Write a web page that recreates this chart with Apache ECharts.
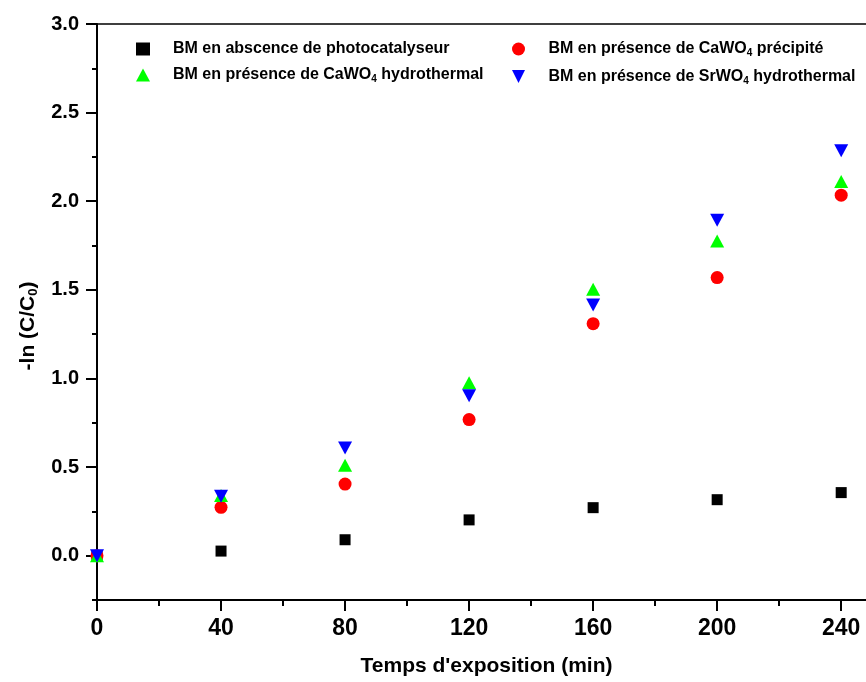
<!DOCTYPE html>
<html>
<head>
<meta charset="utf-8">
<script src="https://cdn.jsdelivr.net/npm/echarts@6/dist/echarts.min.js"></script>
<style>
  html, body { margin: 0; padding: 0; background: #fff; }
  #chart { width: 866px; height: 682px; }
</style>
</head>
<body>
<div id="chart"></div>
<script>
// Exposure time (min)
const times = [0, 40, 80, 120, 160, 200, 240];

// -ln(C/C0) for each condition
const sansCatalyseur = [0, 0.026, 0.09, 0.202, 0.271, 0.316, 0.356];
const caWO4Precipite = [0, 0.273, 0.404, 0.768, 1.309, 1.569, 2.034];
const caWO4Hydro = [0, 0.34, 0.511, 0.976, 1.503, 1.776, 2.111];
const srWO4Hydro = [0, 0.335, 0.607, 0.902, 1.414, 1.892, 2.285];

// Axis ticks and labels
const xMajorTicks = [0, 40, 80, 120, 160, 200, 240];
const xMinorTicks = [20, 60, 100, 140, 180, 220];
const yMajorTicks = [0, 0.5, 1.0, 1.5, 2.0, 2.5, 3.0];
const yMinorTicks = [-0.25, 0.25, 0.75, 1.25, 1.75, 2.25, 2.75];

const seriesNames = [
  'BM en abscence de photocatalyseur',
  'BM en présence de CaWO{sub|4} précipité',
  'BM en présence de CaWO{sub|4} hydrothermal',
  'BM en présence de SrWO{sub|4} hydrothermal'
];

const FONT = '"Liberation Sans", Arial, sans-serif';

// Downward-pointing triangle marker
const DOWN_TRIANGLE = 'path://M0,0 L2,0 L1,2 Z';

const pairs = ys => times.map((t, i) => [t, ys[i]]);

const chart = echarts.init(document.getElementById('chart'), null, { renderer: 'canvas' });

const legendText = {
  fontFamily: FONT, fontWeight: 'bold', fontSize: 16, color: '#000',
  padding: [0, 0, 0, 18],
  rich: {
    sub: { fontFamily: FONT, fontWeight: 'bold', fontSize: 10, color: '#000', verticalAlign: 'bottom', padding: [9, 0, 0, 0] }
  }
};

const axisLineStyle = { color: '#000', width: 2 };

chart.setOption({
  animation: false,
  backgroundColor: '#fff',
  grid: { left: 97, right: 0, top: 24, bottom: 80, containLabel: false },
  legend: [
    {
      data: [seriesNames[0], seriesNames[2]],
      orient: 'vertical', left: 131, top: 36, itemGap: 10,
      itemWidth: 14, itemHeight: 13, textStyle: legendText, selectedMode: false
    },
    {
      data: [seriesNames[1], seriesNames[3]],
      orient: 'vertical', left: 507, top: 36, itemGap: 10,
      itemWidth: 14, itemHeight: 13, textStyle: legendText, selectedMode: false
    }
  ],
  xAxis: [
    {
      type: 'value', min: 0, max: 248, position: 'bottom',
      name: "Temps d'exposition (min)", nameLocation: 'middle', nameGap: 56,
      nameTextStyle: { fontFamily: FONT, fontWeight: 'bold', fontSize: 21, color: '#000', padding: [0, 0, 0, 10] },
      axisLine: { show: true, onZero: false, lineStyle: axisLineStyle },
      axisTick: { show: true, inside: false, length: 11, lineStyle: axisLineStyle, customValues: xMajorTicks },
      axisLabel: { show: true, margin: 17, fontFamily: FONT, fontWeight: 'bold', fontSize: 23, color: '#000', customValues: xMajorTicks },
      splitLine: { show: false }
    },
    {
      type: 'value', min: 0, max: 248, position: 'bottom',
      axisLine: { show: false, onZero: false },
      axisTick: { show: true, length: 6, lineStyle: axisLineStyle, customValues: xMinorTicks },
      axisLabel: { show: false },
      splitLine: { show: false }
    },
    {
      type: 'value', min: 0, max: 248, position: 'top',
      axisLine: { show: true, onZero: false, lineStyle: { color: '#000', width: 1.5 } },
      axisTick: { show: false }, axisLabel: { show: false }, splitLine: { show: false }
    }
  ],
  yAxis: [
    {
      type: 'value', min: -0.25, max: 3.0, position: 'left',
      name: '-ln (C/C{sub|0})', nameLocation: 'middle', nameRotate: 90, nameGap: 56,
      nameTextStyle: {
        fontFamily: FONT, fontWeight: 'bold', fontSize: 21, color: '#000',
        padding: [0, 28, 0, 0],
        rich: { sub: { fontFamily: FONT, fontWeight: 'bold', fontSize: 13, color: '#000', verticalAlign: 'bottom', padding: [12, 0, 0, 0] } }
      },
      axisLine: { show: true, onZero: false, lineStyle: axisLineStyle },
      axisTick: { show: true, length: 11, lineStyle: axisLineStyle, customValues: yMajorTicks },
      axisLabel: {
        show: true, margin: 18, fontFamily: FONT, fontWeight: 'bold', fontSize: 20, color: '#000',
        customValues: yMajorTicks, formatter: v => v.toFixed(1)
      },
      splitLine: { show: false }
    },
    {
      type: 'value', min: -0.25, max: 3.0, position: 'left',
      axisLine: { show: false, onZero: false },
      axisTick: { show: true, length: 5, lineStyle: axisLineStyle, customValues: yMinorTicks },
      axisLabel: { show: false },
      splitLine: { show: false }
    }
  ],
  series: [
    {
      name: seriesNames[0], type: 'scatter', data: pairs(sansCatalyseur),
      symbol: 'rect', symbolSize: 11, symbolKeepAspect: true,
      itemStyle: { color: '#000', opacity: 1 }
    },
    {
      name: seriesNames[1], type: 'scatter', data: pairs(caWO4Precipite),
      symbol: 'circle', symbolSize: 13, symbolKeepAspect: true,
      itemStyle: { color: '#ff0000', opacity: 1 }
    },
    {
      name: seriesNames[2], type: 'scatter', data: pairs(caWO4Hydro),
      symbol: 'triangle', symbolSize: [14, 13],
      itemStyle: { color: '#00ff00', opacity: 1 }
    },
    {
      name: seriesNames[3], type: 'scatter', data: pairs(srWO4Hydro),
      symbol: DOWN_TRIANGLE, symbolSize: [14, 13],
      itemStyle: { color: '#0000ff', opacity: 1 }
    }
  ]
});
</script>
</body>
</html>
